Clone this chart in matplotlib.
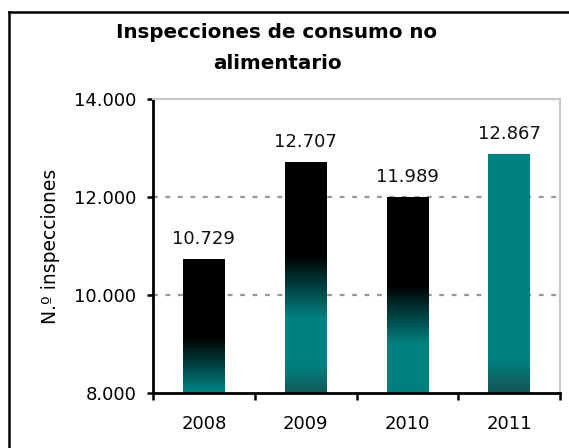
import numpy as np
import matplotlib.pyplot as plt
from matplotlib.lines import Line2D
from matplotlib.colors import to_rgb

years = ["2008", "2009", "2010", "2011"]
inspecciones = [10729, 12707, 11989, 12867]
value_labels = ["10.729", "12.707", "11.989", "12.867"]
y_ticks = [8000, 10000, 12000, 14000]
y_tick_labels = ["8.000", "10.000", "12.000", "14.000"]

TEAL = np.array(to_rgb("#008080"))
DARK = np.array(to_rgb("#145858"))
BLACK = np.zeros(3)


def bar_colours(frac, with_black=True):
    """Colour of the gradient fill as a function of height / bar value."""
    out = np.empty((len(frac), 3))
    for i, f in enumerate(frac):
        if with_black and f >= 0.85:
            c = BLACK
        elif with_black and f >= 0.75:
            t = (f - 0.75) / 0.10
            c = TEAL * (1 - t) + BLACK * t ** 0.7
        elif f >= 0.68:
            c = TEAL
        else:
            t = min((0.68 - f) / 0.06, 1.0)
            t = t * t * (3 - 2 * t)
            c = TEAL * (1 - t) + DARK * t
        out[i] = c
    return out


fig = plt.figure(figsize=(5.69, 4.48), dpi=100)
ax = fig.add_axes([153 / 569, 55 / 448, 407 / 569, 294 / 448])

ymin, ymax = 8000, 14000
width = 0.41
for i, v in enumerate(inspecciones):
    ys = np.linspace(ymax, ymin, 400)
    ys = ys[ys <= v]
    cols = bar_colours(ys / v, with_black=(i < 3))
    img = cols[:, None, :]
    ax.imshow(img, extent=[i - width / 2, i + width / 2, ymin, v],
              aspect="auto", interpolation="bilinear", zorder=2)
    ax.text(i, v + 240, value_labels[i], ha="center", va="bottom",
            fontsize=13, color="#111111")

ax.set_xlim(-0.5, 3.5)
ax.set_ylim(ymin, ymax)

ax.set_yticks(y_ticks)
ax.set_yticklabels(y_tick_labels, fontsize=13)
ax.set_xticks(range(len(years)))
ax.set_xticklabels(years, fontsize=13)
ax.set_xticks(np.arange(-0.5, 4.0, 1.0), minor=True)
ax.tick_params(axis="x", which="major", length=0, pad=16)
ax.tick_params(axis="x", which="minor", length=5, width=1.8, direction="out")
ax.tick_params(axis="y", length=4, width=1.8, direction="out", pad=8)

for y in y_ticks[1:]:
    ax.axhline(y, color="#999999", lw=1.6, linestyle=(0, (2.2, 3.4)), zorder=1)

for side in ("left", "bottom"):
    ax.spines[side].set_linewidth(2)
    ax.spines[side].set_color("black")
for side in ("top", "right"):
    ax.spines[side].set_linewidth(1.5)
    ax.spines[side].set_color("#c8c8c8")
ax.spines["bottom"].set_zorder(5)

ax.set_ylabel("N.º inspecciones", fontsize=13.5, labelpad=10)

fig.text(277 / 569, 1 - 48 / 448, "Inspecciones de consumo no\nalimentario",
         ha="center", va="center", fontsize=14.3, fontweight="bold",
         linespacing=1.75)

# outer frame of the chart area
fig.add_artist(Line2D([9 / 569, 1.0], [1 - 12 / 448, 1 - 12 / 448],
                      transform=fig.transFigure, color="black", lw=1.8))
fig.add_artist(Line2D([9 / 569, 9 / 569], [0.0, 1 - 12 / 448],
                      transform=fig.transFigure, color="black", lw=1.8))

fig.savefig("out.png", dpi=100)
